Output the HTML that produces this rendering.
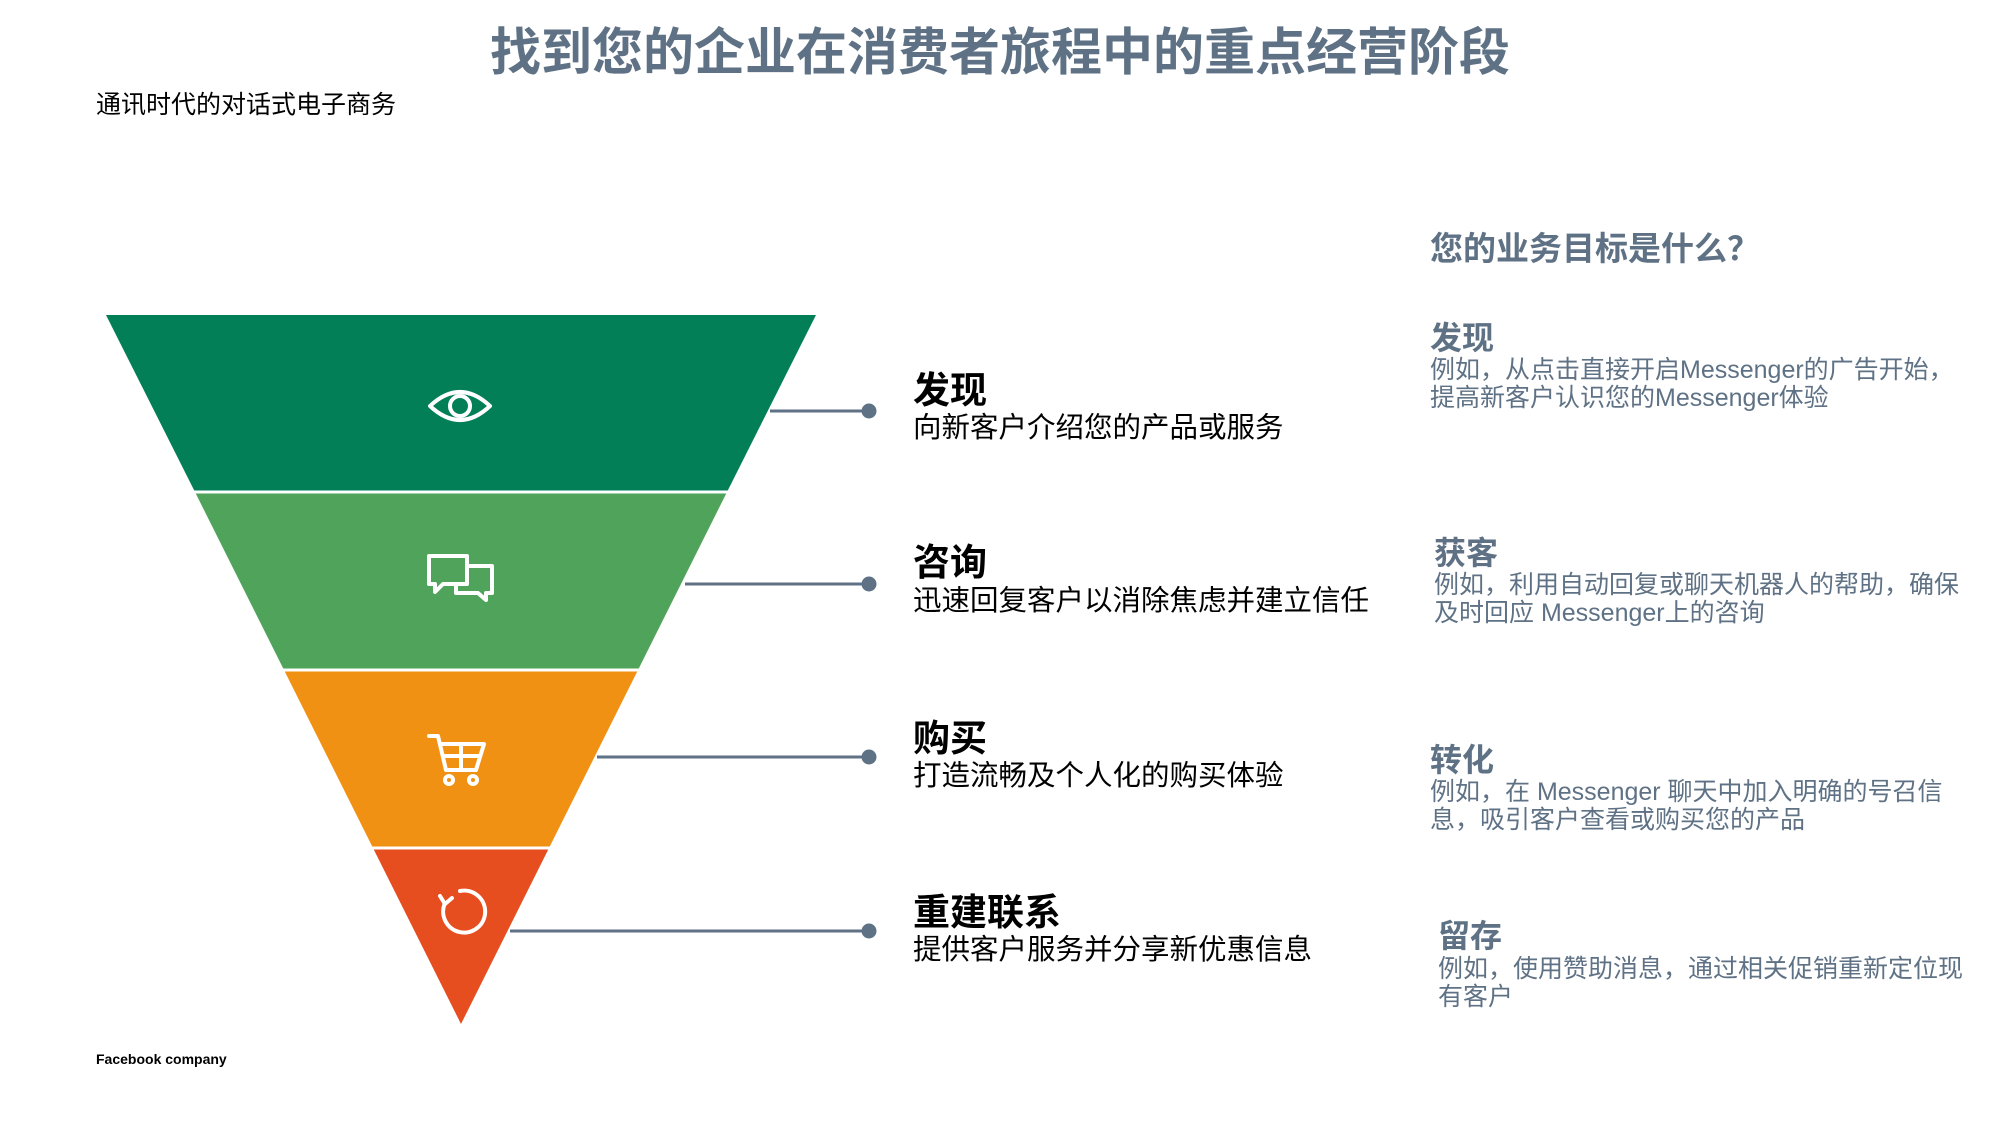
<!DOCTYPE html>
<html><head><meta charset="utf-8">
<style>
body{margin:0;width:2000px;height:1125px;background:#fff;position:relative;overflow:hidden;font-family:"Liberation Sans","Noto Sans CJK SC",sans-serif;}
.t{position:absolute;white-space:nowrap;line-height:1.3;}
.g{color:#5f7285;}
.h{font-weight:bold;font-size:37px;color:#000;}
.d{font-size:28.5px;color:#000;}
.rh{font-weight:bold;font-size:32px;}
.rd{font-size:25px;line-height:28px;}
</style></head><body>
<div class="t g" style="left:0;width:2000px;text-align:center;top:20px;font-size:51px;font-weight:bold;">找到您的企业在消费者旅程中的重点经营阶段</div>
<div class="t" style="left:96px;top:89px;font-size:25px;">通讯时代的对话式电子商务</div>
<div class="t" style="left:96px;top:1050px;font-size:14px;font-weight:bold;">Facebook company</div>

<svg style="position:absolute;left:0;top:0" width="2000" height="1125">
<polygon points="106,315 816,315 727,492 195,492" fill="#027f57"/>
<polygon points="195,492 727,492 638,670 284,670" fill="#4fa35a"/>
<polygon points="284,670 638,670 549,848 373,848" fill="#f09114"/>
<polygon points="373,848 549,848 461,1024" fill="#e64e1f"/>
<g stroke="#fff" stroke-width="3"><line x1="190" y1="492" x2="735" y2="492"/><line x1="280" y1="670" x2="645" y2="670"/><line x1="368" y1="848" x2="555" y2="848"/></g>
<g stroke="#5f7285" stroke-width="3" fill="#5f7285">
<line x1="770" y1="411" x2="869" y2="411"/><circle cx="869" cy="411" r="6"/>
<line x1="685" y1="584" x2="869" y2="584"/><circle cx="869" cy="584" r="6"/>
<line x1="597" y1="757" x2="869" y2="757"/><circle cx="869" cy="757" r="6"/>
<line x1="510" y1="931" x2="869" y2="931"/><circle cx="869" cy="931" r="6"/>
</g>
<g fill="none" stroke="#fff" stroke-width="4" stroke-linejoin="round" stroke-linecap="round">
<path d="M430,406 Q460,378 490,406 Q460,434 430,406 Z"/><circle cx="460" cy="406" r="10"/>
<path d="M429,556 h38 v28 h-24 l-8,8 v-8 h-6 Z"/>
<path d="M467,566 h25 v27 h-6 v7 l-8,-7 h-22 v-9"/>
<path d="M429,736 h9 l8,34 h30 l8,-26 h-43"/><path d="M445,756 h34 M461,744 v26"/>
<circle cx="449" cy="780" r="4"/><circle cx="473" cy="780" r="4"/>
<path d="M445,903 A21,21 0 1 0 460,891"/><path d="M440,896 l5,8 l7,-6"/>
</g>
</svg>

<div class="t h" style="left:913px;top:367px;">发现</div>
<div class="t d" style="left:913px;top:410px;">向新客户介绍您的产品或服务</div>
<div class="t h" style="left:913px;top:539px;">咨询</div>
<div class="t d" style="left:913px;top:583px;">迅速回复客户以消除焦虑并建立信任</div>
<div class="t h" style="left:913px;top:715px;">购买</div>
<div class="t d" style="left:913px;top:758px;">打造流畅及个人化的购买体验</div>
<div class="t h" style="left:913px;top:889px;">重建联系</div>
<div class="t d" style="left:913px;top:932px;">提供客户服务并分享新优惠信息</div>

<div class="t g" style="left:1430px;top:228px;font-size:33px;font-weight:bold;">您的业务目标是什么？</div>
<div class="t g rh" style="left:1430px;top:318px;">发现</div>
<div class="t g rd" style="left:1430px;top:356px;">例如，从点击直接开启Messenger的广告开始，<br>提高新客户认识您的Messenger体验</div>
<div class="t g rh" style="left:1434px;top:533px;">获客</div>
<div class="t g rd" style="left:1434px;top:571px;">例如，利用自动回复或聊天机器人的帮助，确保<br>及时回应 Messenger上的咨询</div>
<div class="t g rh" style="left:1430px;top:740px;">转化</div>
<div class="t g rd" style="left:1430px;top:778px;">例如，在 Messenger 聊天中加入明确的号召信<br>息，吸引客户查看或购买您的产品</div>
<div class="t g rh" style="left:1438px;top:916px;">留存</div>
<div class="t g rd" style="left:1438px;top:955px;">例如，使用赞助消息，通过相关促销重新定位现<br>有客户</div>
</body></html>
